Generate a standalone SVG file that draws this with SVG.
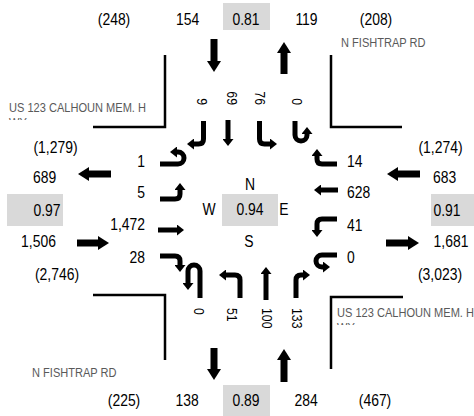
<svg xmlns="http://www.w3.org/2000/svg" width="474" height="416" viewBox="0 0 474 416">
<style>
.t{font-family:"Liberation Sans",Arial,sans-serif;font-size:17px;fill:#000}
.m{text-anchor:middle}
.e{text-anchor:end}
.r{font-family:"Liberation Sans",Arial,sans-serif;font-size:15px;fill:#000}
.st{font-family:"Liberation Sans",Arial,sans-serif;font-size:13.5px;fill:#595959}
.box{fill:#d9d9d9}
.road{fill:none;stroke:#000;stroke-width:2.5}
.big{fill:none;stroke:#000;stroke-width:7;marker-end:url(#hb)}
.ln{fill:none;stroke:#000;stroke-width:5;marker-end:url(#hl)}
</style>
<defs>
<marker id="hb" viewBox="0 0 11 14" refX="0" refY="7" markerWidth="1.571" markerHeight="2" orient="auto"><path d="M0,0L11,7L0,14z" fill="#000"/></marker>
<marker id="hl" viewBox="0 0 7 11" refX="0" refY="5.5" markerWidth="1.4" markerHeight="2.2" orient="auto"><path d="M0,0L7,5.5L0,11z" fill="#000"/></marker>
<clipPath id="c1"><rect x="0" y="95" width="170" height="25"/></clipPath>
<clipPath id="c2"><rect x="330" y="300" width="144" height="25"/></clipPath>
</defs>
<rect width="474" height="416" fill="#fff"/>
<g id="roads">
<path class="road" d="M165,55V127H93"/>
<path class="road" d="M331,55V127H402"/>
<path class="road" d="M93,295H165V360"/>
<path class="road" d="M403,297H331V369"/>
</g>
<g id="streets">
<text class="st" transform="translate(341,47) scale(.82,1)">N FISHTRAP RD</text>
<text class="st" transform="translate(32,377) scale(.82,1)">N FISHTRAP RD</text>
<g clip-path="url(#c1)"><text class="st" transform="translate(9,112) scale(.82,1)">US 123 CALHOUN MEM. H</text><text class="st" transform="translate(9,127) scale(.82,1)">WY</text></g>
<g clip-path="url(#c2)"><text class="st" transform="translate(337,317) scale(.82,1)">US 123 CALHOUN MEM. H</text><text class="st" transform="translate(337,332) scale(.82,1)">WY</text></g>
</g>
<g id="north">
<rect class="box" x="223" y="3" width="47" height="27"/>
<text class="t m" transform="translate(114,25) scale(.82,1)">(248)</text>
<text class="t m" transform="translate(187.5,25) scale(.82,1)">154</text>
<text class="t m" transform="translate(246,25) scale(.82,1)">0.81</text>
<text class="t m" transform="translate(306.5,25) scale(.82,1)">119</text>
<text class="t m" transform="translate(376,25) scale(.82,1)">(208)</text>
<g class="r" text-anchor="end">
<text transform="translate(197,105) rotate(90) scale(.82,1)">9</text>
<text transform="translate(227,105) rotate(90) scale(.82,1)">69</text>
<text transform="translate(255,105) rotate(90) scale(.82,1)">76</text>
<text transform="translate(292,105) rotate(90) scale(.82,1)">0</text>
</g>
</g>
<g id="south">
<rect class="box" x="223" y="385" width="47" height="31"/>
<text class="t m" transform="translate(124,406) scale(.82,1)">(225)</text>
<text class="t m" transform="translate(187,406) scale(.82,1)">138</text>
<text class="t m" transform="translate(246,406) scale(.82,1)">0.89</text>
<text class="t m" transform="translate(306,406) scale(.82,1)">284</text>
<text class="t m" transform="translate(375,406) scale(.82,1)">(467)</text>
<g class="r">
<text transform="translate(194,308) rotate(90) scale(.82,1)">0</text>
<text transform="translate(227,308) rotate(90) scale(.82,1)">51</text>
<text transform="translate(262,308) rotate(90) scale(.82,1)">100</text>
<text transform="translate(292,308) rotate(90) scale(.82,1)">133</text>
</g>
</g>
<g id="west">
<rect class="box" x="7" y="194" width="56" height="32"/>
<text class="t m" transform="translate(55.5,153) scale(.82,1)">(1,279)</text>
<text class="t m" transform="translate(44.5,183) scale(.82,1)">689</text>
<text class="t m" transform="translate(47,216) scale(.82,1)">0.97</text>
<text class="t m" transform="translate(38.5,247) scale(.82,1)">1,506</text>
<text class="t m" transform="translate(57,280) scale(.82,1)">(2,746)</text>
<text class="t e" transform="translate(145,167) scale(.82,1)">1</text>
<text class="t e" transform="translate(145,198) scale(.82,1)">5</text>
<text class="t e" transform="translate(145,230) scale(.82,1)">1,472</text>
<text class="t e" transform="translate(145,263) scale(.82,1)">28</text>
</g>
<g id="east">
<rect class="box" x="431" y="194" width="43" height="32"/>
<text class="t m" transform="translate(440.5,153) scale(.82,1)">(1,274)</text>
<text class="t m" transform="translate(444.5,183) scale(.82,1)">683</text>
<text class="t m" transform="translate(447,216) scale(.82,1)">0.91</text>
<text class="t m" transform="translate(451,247) scale(.82,1)">1,681</text>
<text class="t m" transform="translate(440,280) scale(.82,1)">(3,023)</text>
<text class="t" transform="translate(347,167) scale(.82,1)">14</text>
<text class="t" transform="translate(347,198) scale(.82,1)">628</text>
<text class="t" transform="translate(347,231) scale(.82,1)">41</text>
<text class="t" transform="translate(347,263) scale(.82,1)">0</text>
</g>
<g id="center">
<rect class="box" x="222" y="194" width="56" height="32"/>
<text class="t m" transform="translate(250,190) scale(.82,1)">N</text>
<text class="t m" transform="translate(209,215) scale(.82,1)">W</text>
<text class="t m" transform="translate(250,215) scale(.82,1)">0.94</text>
<text class="t m" transform="translate(284,215) scale(.82,1)">E</text>
<text class="t m" transform="translate(249,247) scale(.82,1)">S</text>
</g>
<g id="connectors">
<path class="big" d="M214,39V61"/>
<path class="big" d="M284,74V53"/>
<path class="big" d="M214,348V369"/>
<path class="big" d="M284,382V360"/>
<path class="big" d="M111,174H89"/>
<path class="big" d="M77,243H98"/>
<path class="big" d="M420,174H398"/>
<path class="big" d="M386,243H408"/>
<path class="ln" d="M203.5,121V139Q203.5,144 198.5,144H194"/>
<path class="ln" d="M228,120V139"/>
<path class="ln" d="M259.5,121V139Q259.5,144 264.5,144H270"/>
<path class="ln" d="M295,121V135A6,6 0 0 0 307,135L307,134"/>
<path class="ln" d="M200,298V271A6,6 0 0 0 188,271V283"/>
<path class="ln" d="M240,298V280Q240,275 235,275H226"/>
<path class="ln" d="M266,300V274"/>
<path class="ln" d="M296,298V280Q296,275 301,275H303"/>
<path class="ln" d="M160,164H178A6,6 0 0 0 178,152H177"/>
<path class="ln" d="M160,199H175Q180,199 180,194V190"/>
<path class="ln" d="M158,230H177"/>
<path class="ln" d="M160,256H175Q180,256 180,261V265"/>
<path class="ln" d="M337,164H322Q317,164 317,159V156"/>
<path class="ln" d="M338,190H321"/>
<path class="ln" d="M337,219H322Q317,219 317,224V230"/>
<path class="ln" d="M337,255H322A6,6 0 0 0 322,267H323"/>
</g>
</svg>
